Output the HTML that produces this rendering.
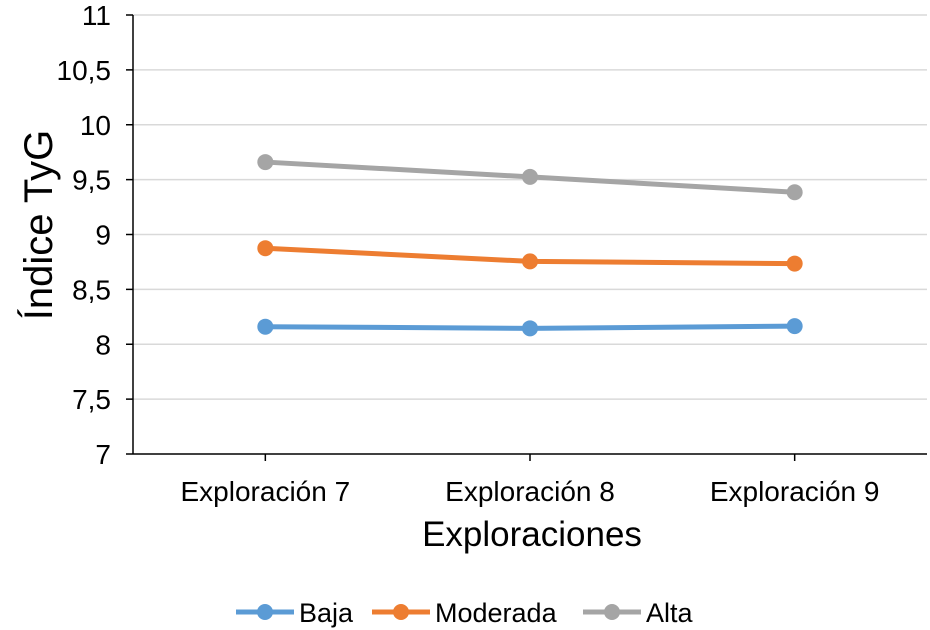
<!DOCTYPE html>
<html><head><meta charset="utf-8"><style>
html,body{margin:0;padding:0;background:#fff;}
svg{display:block;font-family:"Liberation Sans",Arial,sans-serif;}
</style></head><body>
<svg id="chart" width="930" height="630" viewBox="0 0 930 630">
<g id="grid"></g>
<g id="axes"></g>
<g id="series"></g>
<text x="532" y="546" font-size="35" text-anchor="middle" fill="#000">Exploraciones</text>
<text transform="translate(52,225) rotate(-90)" font-size="40" text-anchor="middle" fill="#000">Índice TyG</text>
<g id="legend"></g>
</svg>
<script>
const categories=["Exploración 7","Exploración 8","Exploración 9"];
const seriesNames=["Baja","Moderada","Alta"];
const baja=[8.16,8.145,8.165];
const moderada=[8.875,8.755,8.735];
const alta=[9.66,9.525,9.385];
const yTicks=[7,7.5,8,8.5,9,9.5,10,10.5,11];
const yTickLabels=["7","7,5","8","8,5","9","9,5","10","10,5","11"];
const colors=["#5B9BD5","#ED7D31","#A5A5A5"];
const NS="http://www.w3.org/2000/svg";
const L=133,R=927,T=15,B=454;
function y(v){return B-(v-7)/(11-7)*(B-T);}
function x(i){return L+(R-L)/categories.length*(i+0.5);}
function mk(tag,attrs,parent){const e=document.createElementNS(NS,tag);for(const k in attrs)e.setAttribute(k,attrs[k]);parent.appendChild(e);return e;}
const grid=document.getElementById('grid'),axes=document.getElementById('axes'),ser=document.getElementById('series'),leg=document.getElementById('legend');
yTicks.forEach((t,i)=>{
  if(i>0){const g=mk('line',{x1:L,x2:R,y1:y(t),y2:y(t),stroke:'#D9D9D9','stroke-width':1.5},grid);
  
  }
  const tk=mk('line',{x1:126,x2:L,y1:y(t),y2:y(t),stroke:'#000','stroke-width':1.5},axes);
  
  
  const lb=mk('text',{x:111,y:y(t)+10,'font-size':28,'text-anchor':'end',fill:'#000'},axes);
  lb.textContent=yTickLabels[i];
  
  
});
const ax=mk('line',{x1:L,x2:L,y1:T,y2:B,stroke:'#000','stroke-width':1.5},axes);


const bx=mk('line',{x1:L,x2:R,y1:B,y2:B,stroke:'#000','stroke-width':1.5},axes);


categories.forEach((c,i)=>{
  const tk=mk('line',{x1:x(i),x2:x(i),y1:B,y2:B+7,stroke:'#000','stroke-width':1.5},axes);
  
  
  const lb=mk('text',{x:x(i),y:501,'font-size':28,'text-anchor':'middle',fill:'#000'},axes);
  lb.textContent=c;
  
  
});
[baja,moderada,alta].forEach((data,s)=>{
  const pts=data.map((v,i)=>x(i)+','+y(v)).join(' ');
  const pl=mk('polyline',{points:pts,fill:'none',stroke:colors[s],'stroke-width':5,'stroke-linejoin':'round'},ser);
  
  
  data.forEach((v,i)=>{
    const c=mk('circle',{cx:x(i),cy:y(v),r:8,fill:colors[s]},ser);
    
    
  });
});
const legX=[236,372,583];
seriesNames.forEach((n,s)=>{
  const g=mk('g',{},leg);
  
  
  mk('line',{x1:legX[s],x2:legX[s]+58,y1:612,y2:612,stroke:colors[s],'stroke-width':5},g);
  mk('circle',{cx:legX[s]+29,cy:612,r:8,fill:colors[s]},g);
  const t=mk('text',{x:legX[s]+63,y:622,'font-size':27,fill:'#000'},g);
  t.textContent=n;
});
</script>
</body></html>
